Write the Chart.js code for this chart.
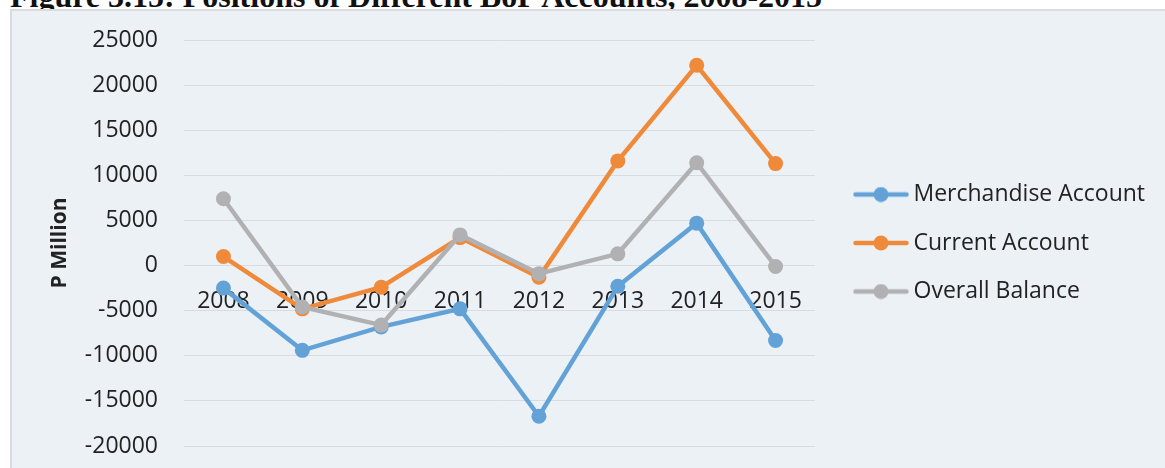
<!DOCTYPE html>
<html>
<head>
<meta charset="utf-8">
<script src="https://cdn.jsdelivr.net/npm/chart.js@4.4.1/dist/chart.umd.min.js"></script>
<style>
  html, body { margin: 0; padding: 0; background: #fff; width: 1165px; height: 468px; overflow: hidden; position: relative; }
  #title { position: absolute; left: 10px; top: -20px; font: bold 32px/32px "Liberation Serif", serif; color: #111; white-space: nowrap; }
  #box { position: absolute; left: 10px; top: 9px; width: 1155px; height: 459px; box-sizing: border-box;
         border-top: 2px solid #D9DBDE; border-left: 2px solid #D9DBDE; background: #ECF1F6; }
  canvas { display: block; }
</style>
</head>
<body>
<div id="title">Figure 3.15: Positions of Different BoP Accounts, 2008-2015</div>
<div id="box"><canvas id="chart" width="1153" height="457"></canvas></div>
<script>
// Data
const years = ['2008', '2009', '2010', '2011', '2012', '2013', '2014', '2015'];
const merchandise = [-2500, -9400, -6800, -4800, -16700, -2300, 4700, -8300];
const currentAccount = [1000, -4800, -2400, 3100, -1300, 11600, 22200, 11300];
const overallBalance = [7400, -4600, -6600, 3400, -900, 1300, 11400, -100];
const yTicks = [-20000, -15000, -10000, -5000, 0, 5000, 10000, 15000, 20000, 25000];

// Styl
const blue = '#63A2D7';
const orange = '#F08A3B';
const gray = '#B1B1B4';
const textColor = '#222';
const fontFamily = '"Open Sans", "Noto Sans", sans-serif';

// Ikona legendy: čára s bodem
function legendIcon(color) {
  const c = document.createElement('canvas');
  c.width = 56; c.height = 16;
  const g = c.getContext('2d');
  g.strokeStyle = color; g.lineWidth = 4.5; g.lineCap = 'round';
  g.beginPath(); g.moveTo(2.5, 8); g.lineTo(53.5, 8); g.stroke();
  g.fillStyle = color;
  g.beginPath(); g.arc(28, 8, 7.5, 0, Math.PI * 2); g.fill();
  return c;
}
const icons = [legendIcon(blue), legendIcon(orange), legendIcon(gray)];

// Pevná šířka legendy
const fixedLegendWidth = {
  id: 'fixedLegendWidth',
  beforeLayout(chart) {
    const legend = chart.legend;
    if (legend && !legend._fixedFit) {
      const fit = legend.fit;
      legend.fit = function () { fit.call(this); this.width = 330.5; };
      legend._fixedFit = true;
    }
  },
};

function series(label, data, color, order) {
  return {
    label, data, order,
    borderColor: color, backgroundColor: color,
    pointBackgroundColor: color, pointBorderColor: color,
    pointBorderWidth: 0, pointRadius: 7.5, pointHoverRadius: 7.5,
    borderWidth: 4.5, tension: 0,
  };
}

new Chart(document.getElementById('chart'), {
  type: 'line',
  plugins: [fixedLegendWidth],
  data: {
    labels: years,
    datasets: [
      series('Merchandise Account', merchandise, blue, 3),
      series('Current Account', currentAccount, orange, 2),
      series('Overall Balance', overallBalance, gray, 1),
    ],
  },
  options: {
    responsive: false,
    animation: false,
    layout: { padding: { top: 29, bottom: 22, left: 0, right: 0 } },
    plugins: {
      tooltip: { enabled: false },
      legend: {
        position: 'right',
        labels: {
          usePointStyle: true,
          pointStyleWidth: 42,
          padding: 25.5,
          color: textColor,
          font: { family: fontFamily, size: 23 },
          sort: (a, b) => a.datasetIndex - b.datasetIndex,
          generateLabels: chart => Chart.defaults.plugins.legend.labels.generateLabels(chart)
            .map(item => ({ ...item, pointStyle: icons[item.datasetIndex] })),
        },
      },
    },
    scales: {
      x: {
        type: 'category',
        position: { y: 0 },
        offset: true,
        z: 1,
        grid: { display: false, drawTicks: false },
        border: { display: false },
        ticks: { padding: 22, color: textColor, font: { family: fontFamily, size: 23 }, maxRotation: 0, autoSkip: false },
      },
      y: {
        min: yTicks[0],
        max: yTicks[yTicks.length - 1],
        afterBuildTicks: s => { s.ticks = yTicks.map(v => ({ value: v })); },
        afterFit: s => { s.width = 172; s.paddingTop = 0; s.paddingBottom = 0; },
        grid: { color: '#D8DBDF', lineWidth: 1, drawTicks: false },
        border: { display: false },
        ticks: { padding: 26, color: textColor, font: { family: fontFamily, size: 23 }, callback: v => String(v) },
        title: {
          display: true, text: 'P Million', color: textColor,
          font: { family: fontFamily, size: 21, weight: 'bold' },
          padding: { top: 35.4, bottom: 0 },
        },
      },
      // mezera mezi grafem a legendou
      gap: {
        type: 'linear',
        position: 'right',
        grid: { display: false },
        border: { display: false },
        ticks: { display: false },
        afterFit: s => { s.width = 19.5; },
      },
    },
  },
});
</script>
</body>
</html>
